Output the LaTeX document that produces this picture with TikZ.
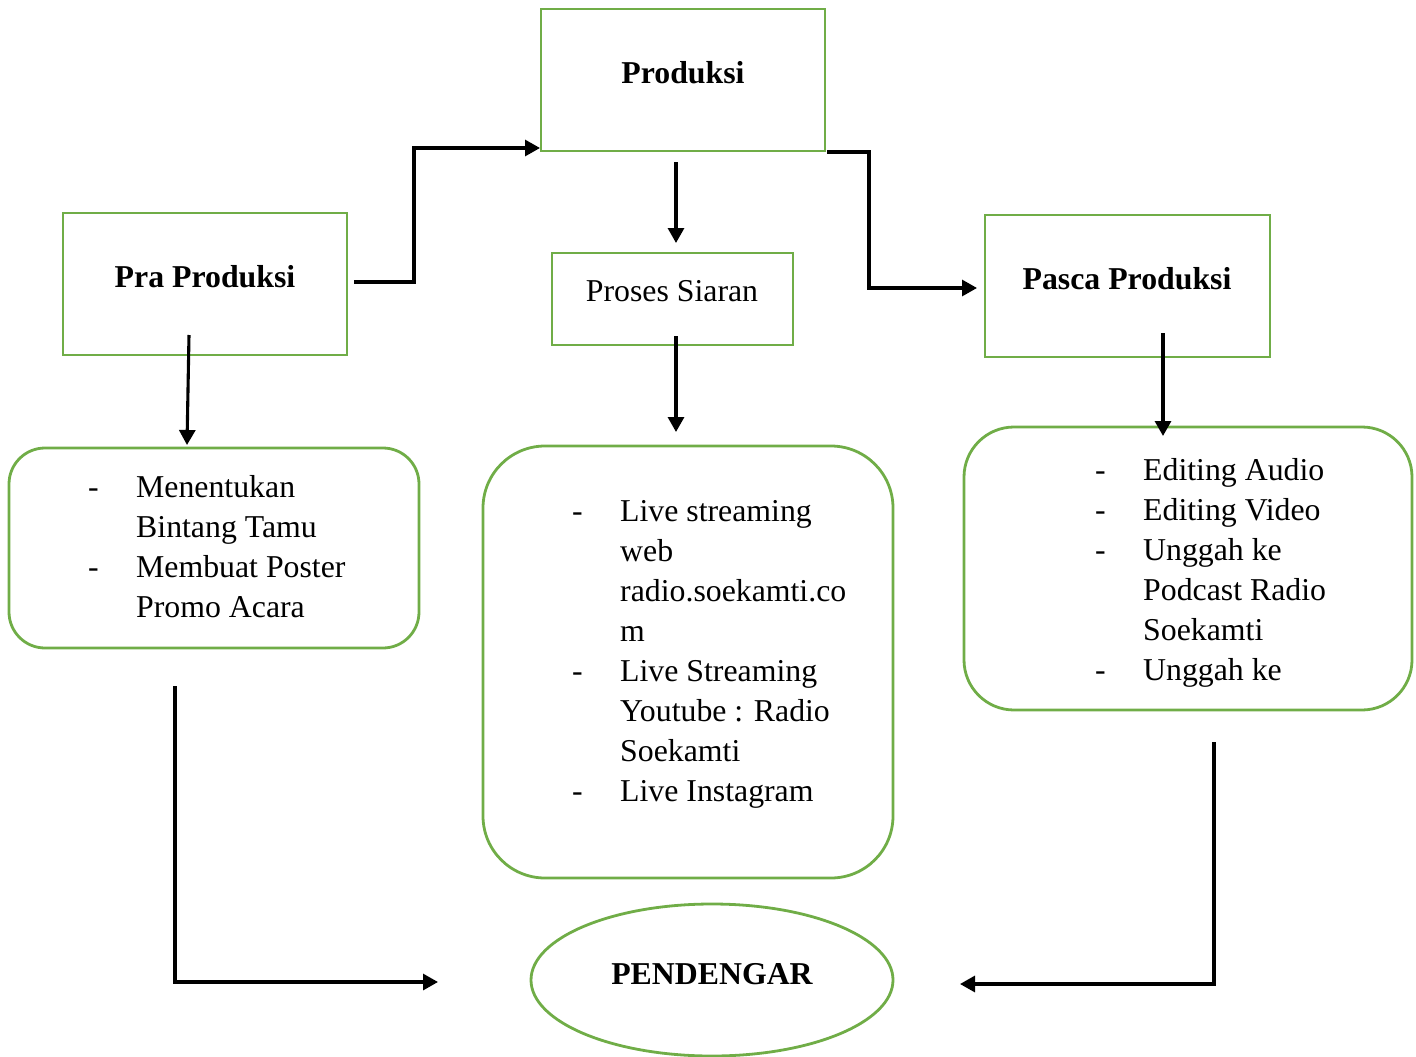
\documentclass[tikz,border=0pt]{standalone}
\usepackage{fontspec}
\setmainfont{Liberation Serif}
\usetikzlibrary{arrows.meta,shapes.geometric}
\definecolor{gr}{HTML}{70AD47}
\begin{document}
\begin{tikzpicture}[x=1pt,y=-1pt,
  font=\fontsize{31.8}{40}\selectfont,
  box/.style={draw=gr,line width=2.8pt,rectangle,inner sep=0pt},
  rbox/.style={draw=gr,line width=2.8pt,rectangle,inner sep=0pt},
  lbl/.style={inner sep=0pt,anchor=base},
  lst/.style={inner sep=0pt,anchor=base west,align=left},
  arr/.style={line width=3.1pt,-{Triangle[length=15pt,width=16pt]}},
  ln/.style={line width=3.1pt}]
\useasboundingbox (0,0) rectangle (1416,1057);
% boxes
\node[box,minimum width=284pt,minimum height=142pt] (prod) at (683,80) {};
\node[box,minimum width=284pt,minimum height=142pt] (pra) at (205,284) {};
\node[box,minimum width=241pt,minimum height=92pt] (proses) at (672.5,299) {};
\node[box,minimum width=285pt,minimum height=142pt] (pasca) at (1127.5,286) {};
\node[rbox,rounded corners=36pt,minimum width=410pt,minimum height=200pt] (l1) at (214,548) {};
\node[rbox,rounded corners=62pt,minimum width=410pt,minimum height=432pt] (l2) at (688,662) {};
\node[rbox,rounded corners=50pt,minimum width=448pt,minimum height=283pt] (l3) at (1188,568.5) {};
\node[draw=gr,line width=2.8pt,ellipse,inner sep=0pt,minimum width=362pt,minimum height=152pt] (pend) at (712,980) {};
% titles
\node[lbl,font=\fontsize{31.8}{40}\selectfont\bfseries] (tprod) at (683,83) {Produksi};
\node[lbl,font=\fontsize{31.8}{40}\selectfont\bfseries] (tpra) at (205,287) {Pra Produksi};
\node[lbl] (tproses) at (672,301) {Proses Siaran};
\node[lbl,font=\fontsize{31.8}{40}\selectfont\bfseries] (tpasca) at (1127,289) {Pasca Produksi};
\node[lbl,font=\fontsize{31.8}{40}\selectfont\bfseries] (tpend) at (712,984) {PENDENGAR};
% lists
\node[lst] (t1) at (88,497) {\begin{tabular}[t]{@{}p{48pt}@{}l@{}}
-& Menentukan\\ & Bintang Tamu\\ -& Membuat Poster\\ & Promo Acara\end{tabular}};
\node[lst] (t2) at (572,521) {\begin{tabular}[t]{@{}p{48pt}@{}l@{}}
-& Live streaming\\ & web\\ & radio.soekamti.co\\ & m\\ -& Live Streaming\\ & Youtube : Radio\\ & Soekamti\\ -& Live Instagram\end{tabular}};
\node[lst] (t3) at (1095,480) {\begin{tabular}[t]{@{}p{48pt}@{}l@{}}
-& Editing Audio\\ -& Editing Video\\ -& Unggah ke\\ & Podcast Radio\\ & Soekamti\\ -& Unggah ke\end{tabular}};
% connector ends
\coordinate (c1s) at (354,282); \coordinate (c1e) at (540,148);
\coordinate (c2s) at (676,162); \coordinate (c2e) at (676,243);
\coordinate (c3s) at (827,152); \coordinate (c3e) at (977,288);
\coordinate (c4s) at (189,335); \coordinate (c4e) at (187,445);
\coordinate (c5s) at (676,336); \coordinate (c5e) at (676,432);
\coordinate (c6s) at (1163,333); \coordinate (c6e) at (1163,436);
\coordinate (c7s) at (175,686); \coordinate (c7e) at (438,982);
\coordinate (c8s) at (1214,742); \coordinate (c8e) at (960,984);
\draw[arr,line join=miter] (c1s) -- ++(60,0) |- (c1e);
\draw[arr] (c2s) -- (c2e);
\draw[arr,line join=miter] (c3s) -- ++(42,0) |- (c3e);
\draw[arr] (c4s) -- (c4e);
\draw[arr] (c5s) -- (c5e);
\draw[arr] (c6s) -- (c6e);
\draw[arr,line join=miter] (c7s) |- (c7e);
\draw[arr,line join=miter] (c8s) |- (c8e);
\end{tikzpicture}
\end{document}
